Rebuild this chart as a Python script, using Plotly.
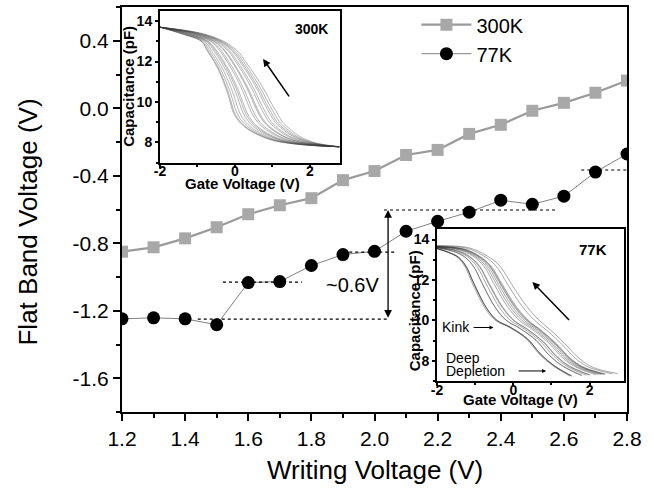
import plotly.graph_objects as go

# ---------------- data ----------------
writing_v = [1.2, 1.3, 1.4, 1.5, 1.6, 1.7, 1.8, 1.9, 2.0, 2.1, 2.2, 2.3, 2.4, 2.5, 2.6, 2.7, 2.8]
vfb_300k = [-0.85, -0.824, -0.771, -0.705, -0.628, -0.575, -0.533, -0.426, -0.372,
            -0.277, -0.247, -0.152, -0.098, -0.015, 0.032, 0.092, 0.164]
vfb_77k = [-1.248, -1.242, -1.248, -1.283, -1.033, -1.027, -0.932, -0.867, -0.848,
           -0.729, -0.67, -0.616, -0.545, -0.569, -0.521, -0.378, -0.271]

x_ticks = [1.2, 1.4, 1.6, 1.8, 2.0, 2.2, 2.4, 2.6, 2.8]
x_labels = ["1.2", "1.4", "1.6", "1.8", "2.0", "2.2", "2.4", "2.6", "2.8"]
y_ticks = [-1.6, -1.2, -0.8, -0.4, 0.0, 0.4]
y_labels = ["-1.6", "-1.2", "-0.8", "-0.4", "0.0", "0.4"]

# dotted guide levels: (y, x_start, x_end)
guide_y = [-1.25, -1.03, -0.853, -0.603, -0.366]
guide_x0 = [1.44, 1.52, 1.92, 2.03, 2.655]
guide_x1 = [2.04, 1.77, 2.07, 2.58, 2.8]

# inset C-V curves: first and last curve of each family
c300_levels = [13.7, 13.4, 13.0, 12.5, 12.0, 11.5, 11.0, 10.5, 10.0, 9.5, 9.0, 8.6, 8.3, 8.1, 7.95, 7.85, 7.78]
v300_first = [-2.0, -1.47, -0.9, -0.73, -0.56, -0.42, -0.31, -0.21, -0.13, -0.05, 0.12, 0.38, 0.7, 1.0, 1.45, 2.0, 2.78]
v300_last = [-2.0, -0.9, -0.3, 0.08, 0.28, 0.47, 0.65, 0.81, 0.95, 1.11, 1.27, 1.5, 1.72, 1.95, 2.2, 2.5, 2.78]

v77_first = [-2.0, -1.7, -1.45, -1.25, -1.09, -0.74, -0.47, -0.12, 0.33, 0.68, 1.04, 1.48]
c77_first = [13.55, 13.35, 13.1, 12.6, 11.9, 10.6, 10.0, 9.67, 9.1, 8.33, 7.75, 7.25]
v77_last = [-2.0, -1.18, -0.74, -0.38, -0.03, 0.33, 0.68, 1.04, 1.4, 1.75, 2.1, 2.73]
c77_last = [13.7, 13.6, 13.25, 12.75, 11.75, 10.75, 10.0, 9.42, 8.75, 8.08, 7.67, 7.37]

FONT = "Liberation Sans, Arial, sans-serif"

fig = go.Figure()

# ---------------- main series ----------------
fig.add_trace(go.Scatter(
    x=writing_v, y=vfb_300k, mode="lines+markers", name="300K",
    line=dict(color="#9a9a9a", width=2.2),
    marker=dict(symbol="square", size=12, color="#a8a8a8"),
    xaxis="x", yaxis="y"))
fig.add_trace(go.Scatter(
    x=writing_v, y=vfb_77k, mode="lines+markers", name="77K",
    line=dict(color="#808080", width=1),
    marker=dict(symbol="circle", size=13, color="black"),
    xaxis="x", yaxis="y"))

# ---------------- inset curves ----------------
lo, hi = min(vfb_300k), max(vfb_300k)
for fb in vfb_300k:
    t = (fb - lo) / (hi - lo)
    xs = [(1 - t) * a + t * b for a, b in zip(v300_first, v300_last)]
    fig.add_trace(go.Scatter(x=xs, y=c300_levels, mode="lines", showlegend=False,
                             line=dict(color="rgba(60,60,60,0.55)", width=0.7, shape="spline"),
                             xaxis="x2", yaxis="y2", hoverinfo="skip"))

lo, hi = min(vfb_77k), max(vfb_77k)
for fb in vfb_77k:
    t = (fb - lo) / (hi - lo)
    xs = [(1 - t) * a + t * b for a, b in zip(v77_first, v77_last)]
    ys = [(1 - t) * a + t * b for a, b in zip(c77_first, c77_last)]
    fig.add_trace(go.Scatter(x=xs, y=ys, mode="lines", showlegend=False,
                             line=dict(color="rgba(40,40,40,0.45)", width=0.9, shape="spline"),
                             xaxis="x3", yaxis="y3", hoverinfo="skip"))

# ---------------- dotted guides ----------------
shapes = []
for gy, gx0, gx1 in zip(guide_y, guide_x0, guide_x1):
    shapes.append(dict(type="line", xref="x", yref="y", x0=gx0, x1=gx1, y0=gy, y1=gy,
                       line=dict(color="black", width=1.2, dash="dot")))


def txt(x, y, text, xref, yref, size, bold=False, angle=0, xanchor="center"):
    f = dict(family=FONT, size=size, color="black")
    if bold:
        f["weight"] = "bold"
    return dict(x=x, y=y, xref=xref, yref=yref, text=text, showarrow=False, textangle=angle,
                xanchor=xanchor, yanchor="middle", font=f)


def arrow(x, y, ax, ay, xref, yref, width=1.5, size=1.0, side="end"):
    return dict(x=x, y=y, ax=ax, ay=ay, xref=xref, yref=yref, axref=xref, ayref=yref,
                text="", showarrow=True, arrowhead=2, arrowside=side, arrowsize=size,
                arrowwidth=width, arrowcolor="black")


annotations = [
    arrow(2.043, -0.603, 2.043, -1.25, "x", "y", width=1.3, size=1.2, side="end+start"),
    txt(1.929, -1.045, "~0.6V", "x", "y", 20),
    txt(0.5, -0.143, "Writing Voltage (V)", "paper", "paper", 26),
    txt(-0.186, 0.468, "Flat Band Voltage (V)", "paper", "paper", 26, angle=-90),
    # inset 1
    txt(0.2396, 0.564, "Gate Voltage (V)", "paper", "paper", 15, bold=True),
    txt(0.0139, 0.803, "Capacitance (pF)", "paper", "paper", 15, bold=True, angle=-90),
    txt(2.05, 13.6, "300K", "x2", "y2", 14, bold=True),
    arrow(0.75, 12.13, 1.47, 10.2, "x2", "y2"),
    # inset 2
    txt(0.790, 0.032, "Gate Voltage (V)", "paper", "paper", 15, bold=True),
    txt(0.578, 0.251, "Capacitance (pF)", "paper", "paper", 15, bold=True, angle=-90),
    txt(2.1, 13.5, "77K", "x3", "y3", 15, bold=True),
    arrow(0.5, 11.9, 1.5, 9.95, "x3", "y3"),
    txt(-1.51, 9.65, "Kink", "x3", "y3", 14),
    arrow(-0.52, 9.65, -1.08, 9.65, "x3", "y3", width=1, size=0.8),
    txt(-1.83, 8.15, "Deep", "x3", "y3", 14, xanchor="left"),
    txt(-1.83, 7.5, "Depletion", "x3", "y3", 14, xanchor="left"),
    arrow(0.86, 7.5, 0.1, 7.5, "x3", "y3", width=1, size=0.8),
]

main_tick_font = dict(family=FONT, size=21, color="black")
inset_tick_font = dict(family=FONT, size=14, color="black", weight="bold")


def inset_axis(domain, anchor, rng, vals, standoff=0):
    return dict(domain=domain, anchor=anchor, range=rng,
                tickvals=vals, ticktext=[str(v) for v in vals], tickfont=inset_tick_font,
                ticks="outside", ticklen=3, tickwidth=1.5, tickcolor="black",
                ticklabelstandoff=standoff,
                minor=dict(dtick=1, tick0=0, ticks="outside", ticklen=2, tickwidth=1.5, tickcolor="black"),
                showline=True, linewidth=2, linecolor="black", mirror=True,
                showgrid=False, zeroline=False)


fig.update_layout(
    width=654, height=495,
    margin=dict(l=122, r=27, t=6, b=83, pad=0),
    paper_bgcolor="white", plot_bgcolor="white",
    showlegend=True,
    legend=dict(x=0.583, y=1.002, xanchor="left", yanchor="top",
                font=dict(family=FONT, size=20, color="black"),
                bgcolor="rgba(0,0,0,0)", itemwidth=50, tracegroupgap=0),
    xaxis=dict(range=[1.2, 2.8], tickvals=x_ticks, ticktext=x_labels, tickfont=main_tick_font,
               ticks="outside", ticklen=7, tickwidth=2, tickcolor="black",
               minor=dict(dtick=0.1, tick0=1.2, ticks="outside", ticklen=4, tickwidth=2, tickcolor="black"),
               showline=True, linewidth=2, linecolor="black", mirror=True,
               showgrid=False, zeroline=False, domain=[0, 1]),
    yaxis=dict(range=[-1.8, 0.6], tickvals=y_ticks, ticktext=y_labels, tickfont=main_tick_font,
               ticks="outside", ticklen=7, tickwidth=2, tickcolor="black",
               minor=dict(dtick=0.2, tick0=0, ticks="outside", ticklen=4, tickwidth=2, tickcolor="black"),
               showline=True, linewidth=2, linecolor="black", mirror=True,
               showgrid=False, zeroline=False, domain=[0, 1]),
    xaxis2=inset_axis([0.0752, 0.4317], "y2", [-2, 2.8], [-2, 0, 2], standoff=-8),
    yaxis2=inset_axis([0.616, 0.990], "x2", [7, 14.5], [8, 10, 12, 14]),
    xaxis3=inset_axis([0.6238, 0.994], "y3", [-2, 2.9], [-2, 0, 2], standoff=-8),
    yaxis3=inset_axis([0.0764, 0.4507], "x3", [7, 14.5], [8, 10, 12, 14]),
    shapes=shapes,
    annotations=annotations,
)

fig.write_html("out.html")
